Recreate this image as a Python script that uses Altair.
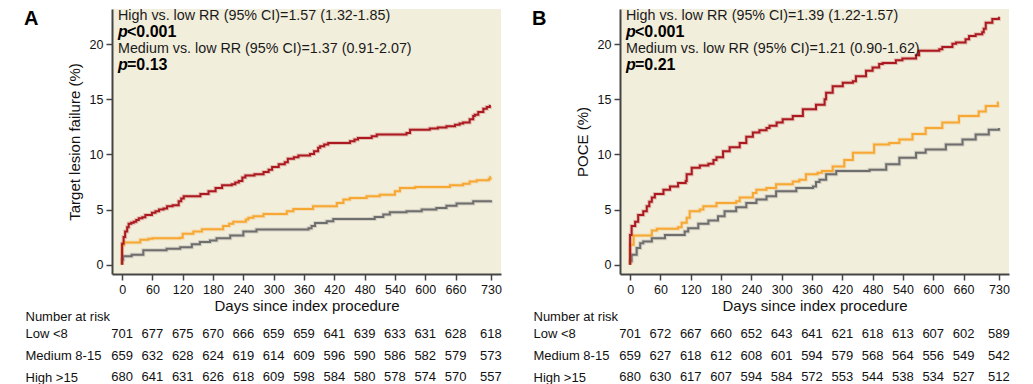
import altair as alt
import pandas as pd

COND = "Liberation Sans, Arial, sans-serif"
SANS = "Liberation Sans, Arial, sans-serif"

groups = ["Low <8", "Medium 8-15", "High >15"]
tick_days = [0, 60, 120, 180, 240, 300, 360, 420, 480, 540, 600, 660, 730]

# ---------- Panel A: Target lesion failure (%) ----------
a_high_days = [0, 0, 3, 6, 10, 13, 18, 23, 28, 33, 40, 46, 59, 66, 73, 82, 89, 100, 112, 117, 122, 155, 171, 185, 198, 217, 224, 231, 238, 244, 262, 280, 290, 297, 310, 322, 328, 340, 349, 372, 380, 388, 392, 400, 408, 451, 460, 467, 494, 504, 563, 570, 609, 625, 642, 659, 668, 675, 688, 695, 698, 705, 715, 722, 728, 730]
a_high_vals = [0, 1.9, 2.5, 3.0, 3.4, 3.7, 3.8, 3.9, 4.05, 4.2, 4.3, 4.5, 4.7, 4.85, 5.0, 5.1, 5.3, 5.4, 5.75, 6.0, 6.2, 6.4, 6.65, 6.95, 7.2, 7.3, 7.45, 7.6, 7.9, 8.1, 8.2, 8.4, 8.6, 8.85, 9.1, 9.3, 9.6, 9.75, 9.9, 10.05, 10.3, 10.6, 10.75, 10.9, 11.05, 11.2, 11.35, 11.5, 11.65, 11.8, 11.95, 12.25, 12.35, 12.45, 12.55, 12.7, 12.8, 12.9, 13.2, 13.5, 13.6, 13.85, 14.15, 14.3, 14.4, 14.4]

a_med_days = [0, 0, 3, 36, 52, 60, 115, 120, 141, 158, 200, 212, 220, 245, 250, 260, 280, 326, 339, 378, 425, 438, 451, 484, 510, 540, 550, 580, 649, 675, 688, 702, 726, 729, 730]
a_med_vals = [0, 1.75, 2.0, 2.25, 2.35, 2.4, 2.45, 2.8, 3.0, 3.2, 3.5, 3.7, 3.9, 4.1, 4.25, 4.4, 4.6, 4.85, 5.05, 5.3, 5.6, 5.9, 6.05, 6.2, 6.35, 6.65, 6.95, 7.05, 7.2, 7.35, 7.55, 7.65, 7.8, 7.95, 7.95]

a_low_days = [0, 0, 2, 19, 42, 88, 115, 138, 154, 174, 187, 214, 240, 266, 369, 375, 382, 405, 418, 500, 517, 530, 563, 593, 622, 642, 662, 695, 730]
a_low_vals = [0, 0.45, 0.75, 0.9, 1.3, 1.45, 1.57, 1.85, 2.05, 2.2, 2.4, 2.65, 3.0, 3.18, 3.3, 3.5, 3.78, 3.94, 4.15, 4.33, 4.55, 4.75, 4.85, 5.0, 5.15, 5.35, 5.55, 5.75, 5.85]

a_risk_low = [701, 677, 675, 670, 666, 659, 659, 641, 639, 633, 631, 628, 618]
a_risk_med = [659, 632, 628, 624, 619, 614, 609, 596, 590, 586, 582, 579, 573]
a_risk_high = [680, 641, 631, 626, 618, 609, 598, 584, 580, 578, 574, 570, 557]

# ---------- Panel B: POCE (%) ----------
b_high_days = [0, 0, 3, 10, 16, 26, 33, 38, 43, 49, 66, 79, 95, 110, 112, 122, 138, 155, 165, 171, 184, 197, 217, 230, 243, 256, 270, 276, 290, 302, 322, 342, 368, 385, 388, 401, 421, 441, 447, 467, 480, 493, 500, 526, 539, 566, 572, 612, 618, 638, 645, 664, 671, 684, 697, 700, 704, 717, 730]
b_high_vals = [0, 2.7, 3.5, 3.9, 4.5, 4.85, 5.3, 5.7, 6.1, 6.4, 6.8, 7.1, 7.4, 7.6, 8.2, 8.8, 9.0, 9.15, 9.5, 9.75, 10.3, 10.65, 11.05, 11.6, 12.0, 12.2, 12.4, 12.6, 12.9, 13.2, 13.5, 14.1, 14.5, 15.0, 15.6, 16.2, 16.5, 16.65, 17.1, 17.6, 17.9, 18.2, 18.3, 18.55, 18.7, 19.0, 19.4, 19.55, 19.75, 20.05, 20.15, 20.45, 20.75, 20.9, 21.1, 21.4, 21.95, 22.3, 22.5]

b_med_days = [0, 0, 7, 43, 53, 95, 102, 112, 118, 138, 145, 171, 210, 217, 243, 250, 270, 289, 322, 335, 348, 371, 380, 401, 424, 441, 483, 513, 533, 559, 585, 618, 651, 690, 704, 728, 730]
b_med_vals = [0, 1.8, 2.65, 3.1, 3.25, 3.4, 3.8, 4.25, 4.85, 5.0, 5.3, 5.6, 5.75, 6.1, 6.5, 6.8, 6.95, 7.3, 7.55, 7.7, 8.2, 8.35, 8.5, 8.9, 9.5, 10.15, 10.9, 11.05, 11.35, 11.85, 12.4, 12.9, 13.5, 13.9, 14.4, 14.7, 14.7]

b_low_days = [0, 0, 3, 13, 20, 26, 43, 69, 108, 115, 135, 155, 174, 187, 210, 230, 250, 270, 289, 329, 362, 368, 375, 388, 408, 474, 507, 533, 566, 585, 625, 658, 684, 710, 730]
b_low_vals = [0, 0.3, 0.9, 1.5, 1.95, 2.1, 2.4, 2.7, 3.0, 3.3, 3.7, 4.0, 4.4, 4.85, 5.2, 5.6, 5.9, 6.2, 6.65, 6.95, 7.1, 7.5, 7.7, 8.2, 8.5, 8.6, 9.1, 9.7, 10.15, 10.45, 10.9, 11.35, 11.8, 12.25, 12.4]

b_risk_low = [701, 672, 667, 660, 652, 643, 641, 621, 618, 613, 607, 602, 589]
b_risk_med = [659, 627, 618, 612, 608, 601, 594, 579, 568, 564, 556, 549, 542]
b_risk_high = [680, 630, 617, 607, 594, 584, 572, 553, 544, 538, 534, 527, 512]

PLOT_W, PLOT_H = 389, 265
TABLE_H = 65
XDOM = [-20, 750]
YDOM = [-0.85, 23.2]
BG = "#f2eedc"
RED = "#ab1a20"
GRAY = "#6e6e6e"


def curves(low, med, high):
    rows = []
    for g, (ds, vs) in zip(groups, [low, med, high]):
        for i, (d, v) in enumerate(zip(ds, vs)):
            rows.append({"group": g, "day": d, "val": v, "i": i})
    return pd.DataFrame(rows)


def risk(low, med, high):
    rows = []
    for g, ns in zip(groups, [low, med, high]):
        for d, n in zip(tick_days, ns):
            rows.append({"group": g, "day": d, "n": n})
    return pd.DataFrame(rows)


def text_layer(t, x, y, font, size, weight="normal", style="normal", baseline="middle", color="#1a1a1a"):
    return alt.Chart(pd.DataFrame({"t": [t]})).mark_text(
        align="left", baseline=baseline, font=font, fontSize=size,
        fontWeight=weight, fontStyle=style, color=color
    ).encode(x=alt.value(x), y=alt.value(y), text="t:N")


def panel(letter, ytitle, cdf, rdf, orange, hr1, p1, hr2, p2):
    xenc = alt.X("day:Q", scale=alt.Scale(domain=XDOM, nice=False, zero=False),
                 axis=alt.Axis(values=tick_days, title="Days since index procedure",
                               titleFont=SANS, titleFontSize=15, titleFontWeight="normal",
                               titleColor="#111", titlePadding=3,
                               labelFont=COND, labelFontSize=12.5, labelColor="#111",
                               labelPadding=3, labelFlush=False,
                               tickSize=6, tickColor="#444", tickWidth=1.5,
                               domainColor="#444", domainWidth=2, grid=False))
    yenc = alt.Y("val:Q", scale=alt.Scale(domain=YDOM, nice=False, zero=False),
                 axis=alt.Axis(values=[0, 5, 10, 15, 20], title=ytitle,
                               titleFont=SANS, titleFontSize=15, titleFontWeight="normal",
                               titleColor="#111", titlePadding=7,
                               labelFont=COND, labelFontSize=12.5, labelColor="#111",
                               labelPadding=3, tickSize=6, tickColor="#444", tickWidth=1.5,
                               domainColor="#444", domainWidth=2, grid=False))
    cscale = alt.Scale(domain=groups, range=[GRAY, orange, RED])
    base = alt.Chart(cdf)
    halo = base.mark_line(interpolate="step-after", strokeWidth=4, opacity=0.22).encode(
        x=xenc, y=yenc, color=alt.Color("group:N", scale=cscale, legend=None),
        order="i:Q", detail="group:N")
    line = base.mark_line(interpolate="step-after", strokeWidth=2).encode(
        x=xenc, y=yenc, color=alt.Color("group:N", scale=cscale, legend=None),
        order="i:Q", detail="group:N")
    texts = [
        text_layer(letter, -88, 0, SANS, 20, weight="bold", baseline="top", color="#000"),
        text_layer(hr1, 6, 0, SANS, 14.3, baseline="top"),
        text_layer("p", 6, 23, SANS, 16, weight="bold", style="italic", color="#000"),
        text_layer(p1, 15, 23, SANS, 16, weight="bold", color="#000"),
        text_layer(hr2, 6, 39.5, SANS, 14.3),
        text_layer("p", 6, 56, SANS, 16, weight="bold", style="italic", color="#000"),
        text_layer(p2, 15, 56, SANS, 16, weight="bold", color="#000"),
    ]
    plot = alt.layer(halo, line, *texts).properties(
        width=PLOT_W, height=PLOT_H,
        view=alt.ViewBackground(fill=BG, strokeWidth=0))

    table = alt.Chart(rdf).mark_text(font=COND, fontSize=13, color="#111",
                                     align="center", baseline="middle").encode(
        x=alt.X("day:Q", scale=alt.Scale(domain=XDOM, nice=False, zero=False), axis=None),
        y=alt.Y("group:N", scale=alt.Scale(domain=groups, paddingInner=0, paddingOuter=0),
                axis=alt.Axis(title="Number at risk", titleAngle=0, titleAlign="left",
                              titleBaseline="middle", titleX=-87, titleY=-7,
                              titleFont=COND, titleFontSize=13, titleFontWeight="normal",
                              titleColor="#111", labelAlign="left", labelPadding=87,
                              labelFont=COND, labelFontSize=13, labelColor="#111",
                              domain=False, ticks=False, grid=False)),
        text="n:Q",
    ).properties(width=PLOT_W, height=TABLE_H)

    return alt.vconcat(plot, table, spacing=49, bounds="flush")


pA = panel("A", "Target lesion failure (%)",
           curves((a_low_days, a_low_vals), (a_med_days, a_med_vals), (a_high_days, a_high_vals)),
           risk(a_risk_low, a_risk_med, a_risk_high), "#f7a733",
           "High vs. low RR (95% CI)=1.57 (1.32-1.85)", "<0.001",
           "Medium vs. low RR (95% CI)=1.37 (0.91-2.07)", "=0.13")
pB = panel("B", "POCE (%)",
           curves((b_low_days, b_low_vals), (b_med_days, b_med_vals), (b_high_days, b_high_vals)),
           risk(b_risk_low, b_risk_med, b_risk_high), "#f29400",
           "High vs. low RR (95% CI)=1.39 (1.22-1.57)", "<0.001",
           "Medium vs. low RR (95% CI)=1.21 (0.90-1.62)", "=0.21")

chart = alt.hconcat(pA, pB, spacing=30).properties(
    padding={"left": 16, "top": 0, "right": 0, "bottom": 0},
    background="white",
).configure_view(strokeWidth=0)

chart.save("out.html", embed_options={"renderer": "svg", "actions": False})
